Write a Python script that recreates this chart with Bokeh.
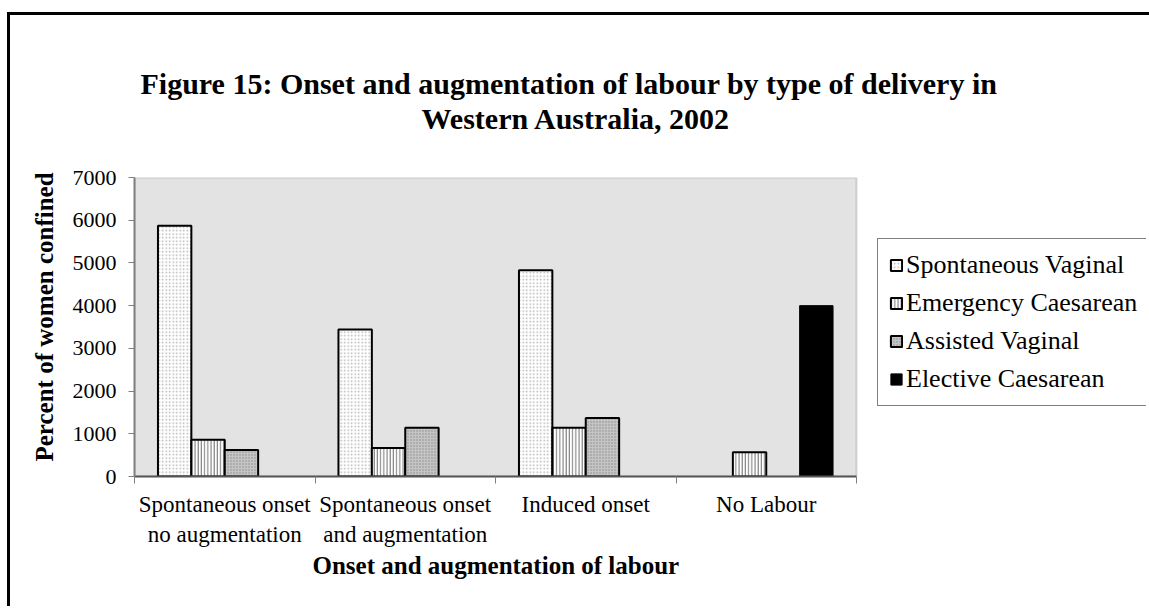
import numpy as np
from bokeh.plotting import figure
from bokeh.models import (Range1d, FixedTicker, Legend, LegendItem, Title, ColumnDataSource,
                          BoxAnnotation)
from bokeh.embed import file_html
from bokeh.resources import INLINE

# ---- data ----
categories = ["Spontaneous onset\nno augmentation", "Spontaneous onset\nand augmentation",
              "Induced onset", "No Labour"]
series_names = ["Spontaneous Vaginal", "Emergency Caesarean", "Assisted Vaginal", "Elective Caesarean"]
spontaneous_vaginal = [5870, 3440, 4830, 0]
emergency_caesarean = [860, 670, 1140, 570]
assisted_vaginal = [620, 1140, 1370, 0]
elective_caesarean = [0, 0, 0, 4000]
y_ticks = [0, 1000, 2000, 3000, 4000, 5000, 6000, 7000]
title_lines = ["Figure 15: Onset and augmentation of labour by type of delivery in",
               "Western Australia, 2002"]
x_title = "Onset and augmentation of labour"
y_title = "Percent of women confined"

FONT = "Liberation Serif"
n_cat = len(categories)
PLOT_W = 722          # pixel width of the grey plot area
FRAME_W = 1012        # frame also holds the legend on the right
x_end = n_cat * FRAME_W / PLOT_W

p = figure(frame_width=FRAME_W, frame_height=299,
           x_range=Range1d(0, x_end), y_range=Range1d(y_ticks[0], y_ticks[-1]),
           output_backend="svg", toolbar_location=None,
           min_border_left=124, min_border_right=3, min_border_top=162, min_border_bottom=130)
p.styles = {"border-top": "3px solid black", "border-left": "3px solid black",
            "margin-top": "12px", "margin-left": "7px"}
p.background_fill_color = "white"
p.border_fill_color = "white"
p.outline_line_color = None
p.xgrid.grid_line_color = None
p.ygrid.grid_line_color = None

# grey plot area
p.add_layout(BoxAnnotation(left=0, right=n_cat, bottom=y_ticks[0], top=y_ticks[-1],
                           fill_color="#e3e3e3", fill_alpha=1, line_color="#808080",
                           line_width=2, level="underlay"))

styles = [
    dict(fill_color="white", hatch_pattern="dot", hatch_color="#b4b4b4", hatch_scale=3.5, hatch_weight=1,
         line_color="black", line_width=2),
    dict(fill_color="white", hatch_pattern="vertical_line", hatch_color="#707070", hatch_scale=3.2,
         hatch_weight=1, line_color="black", line_width=2),
    dict(fill_color="#c4c4c4", hatch_pattern="dot", hatch_color="#8c8c8c", hatch_scale=3, hatch_weight=1,
         line_color="black", line_width=2),
    dict(fill_color="black", line_color="black", line_width=1),
]
all_values = [spontaneous_vaginal, emergency_caesarean, assisted_vaginal, elective_caesarean]
bar_w = 0.185
offsets = [(-1.5 + i) * bar_w for i in range(4)]
centers = np.arange(n_cat) + 0.5

items = []
for name, vals, st, off in zip(series_names, all_values, styles, offsets):
    vals = np.array(vals, dtype=float)
    keep = vals > 0
    src = ColumnDataSource(dict(x=(centers + off)[keep], top=vals[keep]))
    r = p.vbar(x="x", top="top", width=bar_w, source=src, **st)
    items.append(LegendItem(label=name, renderers=[r]))

# y axis
p.yaxis.ticker = FixedTicker(ticks=y_ticks)
p.yaxis.major_label_text_font = FONT
p.yaxis.major_label_text_font_size = "22px"
p.yaxis.major_label_text_color = "black"
p.yaxis.major_tick_out = 6
p.yaxis.major_tick_in = 0
p.yaxis.minor_tick_line_color = None
p.yaxis.major_tick_line_color = "#808080"
p.yaxis.axis_line_color = "#808080"
p.yaxis.axis_line_width = 2
p.yaxis.major_label_standoff = 12

# y axis title (left of the tick labels)
p.add_layout(Title(text=y_title, align="left", offset=15, standoff=23, text_font=FONT,
                   text_font_style="bold", text_font_size="25px", text_color="black"), "left")

# x axis
p.xaxis.bounds = (0, n_cat)
p.xaxis.ticker = FixedTicker(ticks=list(centers), minor_ticks=list(range(n_cat + 1)))
p.xaxis.major_label_overrides = {float(c): lab for c, lab in zip(centers, categories)}
p.xaxis.major_label_text_font = FONT
p.xaxis.major_label_text_font_size = "23px"
p.xaxis.major_label_text_color = "black"
p.xaxis.major_tick_out = 0
p.xaxis.major_tick_in = 0
p.xaxis.minor_tick_out = 7
p.xaxis.minor_tick_in = 0
p.xaxis.minor_tick_line_color = "#808080"
p.xaxis.axis_line_color = "#555555"
p.xaxis.axis_line_width = 2
p.xaxis.major_label_standoff = 8

# x axis title (below the tick labels, centred under the grey area)
p.add_layout(Title(text=x_title, align="left", offset=178, standoff=0, text_font=FONT,
                   text_font_style="bold", text_font_size="25px", text_color="black"), "below")

# title: a blank spacer nearest the plot, then line 2, then (outermost) line 1
p.title.text = title_lines[0]
p.title.align = "left"
p.title.offset = 6
p.title.standoff = 0
p.title.text_font = FONT
p.title.text_font_style = "bold"
p.title.text_font_size = "30px"
p.title.text_color = "black"
p.add_layout(Title(text=" ", standoff=8, text_font=FONT, text_font_size="30px"), "above")
p.add_layout(Title(text=title_lines[1], align="left", offset=287, standoff=0,
                   text_font=FONT, text_font_style="bold", text_font_size="30px",
                   text_color="black"), "above")

legend = Legend(items=items, location=(743, 70))
legend.label_text_font = FONT
legend.label_text_font_size = "26px"
legend.label_text_color = "black"
legend.glyph_width = 14
legend.glyph_height = 14
legend.label_height = 26
legend.spacing = 8
legend.padding = 11
legend.margin = 0
legend.label_standoff = 3
legend.border_line_color = "black"
legend.border_line_width = 1
legend.background_fill_color = "white"
legend.background_fill_alpha = 1
p.add_layout(legend)

open("out.html", "w").write(file_html(p, INLINE))
